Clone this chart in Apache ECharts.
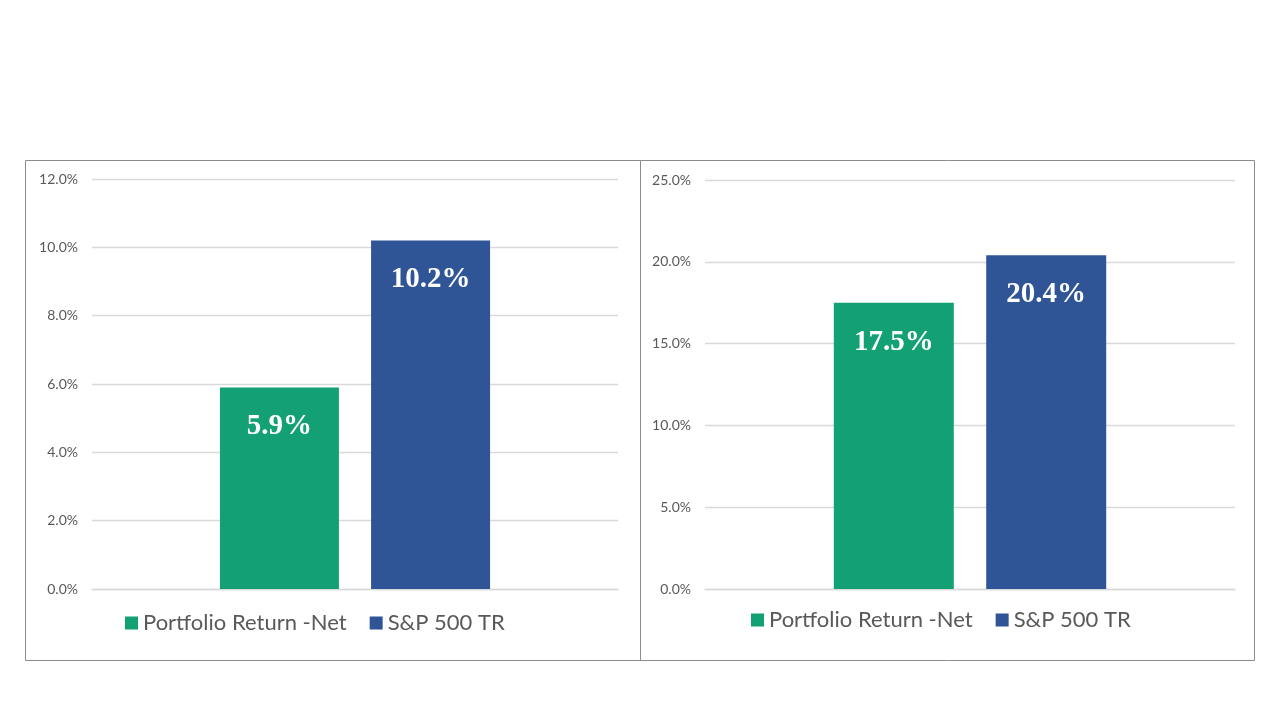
<!DOCTYPE html>
<html>
<head>
<meta charset="utf-8">
<script src="https://cdn.jsdelivr.net/npm/echarts@6/dist/echarts.min.js"></script>
<style>
html,body{margin:0;padding:0;background:#fff;}
#c{width:1280px;height:720px;}
</style>
</head>
<body>
<div id="c"></div>
<script>
const categories = ['Return'];
const seriesNames = ['Portfolio Return -Net', 'S&P 500 TR'];
const leftPortfolio = [5.9];
const leftSP = [10.2];
const rightPortfolio = [17.5];
const rightSP = [20.4];
const leftAxis = { max: 12, interval: 2 };
const rightAxis = { max: 25, interval: 5 };

const GREEN = '#12A074';
const BLUE = '#2F5597';
const GRAY_TXT = '#595959';
const GRID_LINE = '#D9D9D9';

const chart = echarts.init(document.getElementById('c'), null, { renderer: 'canvas' });

function yAxis(gi, cfg) {
  return {
    type: 'value', gridIndex: gi, min: 0, max: cfg.max, interval: cfg.interval,
    axisLine: { show: false }, axisTick: { show: false },
    axisLabel: { color: GRAY_TXT, fontFamily: 'Lato', fontSize: 14, margin: 14,
      formatter: v => v.toFixed(1) + '%' },
    splitLine: { lineStyle: { color: GRID_LINE, width: 1.3 } }
  };
}
function xAxis(gi) {
  return {
    type: 'category', gridIndex: gi, data: categories,
    axisLine: { show: true, lineStyle: { color: GRID_LINE, width: 1.3 } },
    axisTick: { show: false }, axisLabel: { show: false }
  };
}
const labelCfg = {
  show: true, position: 'insideTop', distance: 25, color: '#fff',
  fontFamily: 'Liberation Serif', fontWeight: 'bold', fontSize: 29,
  formatter: p => p.value.toFixed(1) + '%'
};
function bar(name, data, gi, color, width) {
  return {
    name: name, type: 'bar', xAxisIndex: gi, yAxisIndex: gi, data: data,
    barWidth: width, barGap: '27%', itemStyle: { color: color },
    label: labelCfg, silent: true
  };
}
function legend(left, top) {
  return {
    left: left, top: top, itemWidth: 13, itemHeight: 13, itemGap: 23,
    padding: 0, icon: 'rect', selectedMode: false,
    textStyle: { color: GRAY_TXT, fontFamily: 'Lato', fontSize: 22 },
    data: seriesNames
  };
}

chart.setOption({
  animation: false,
  color: [GREEN, BLUE],
  graphic: [
    { type: 'rect', shape: { x: 25.5, y: 160.5, width: 615, height: 500 },
      style: { fill: 'none', stroke: '#8C8C8C', lineWidth: 1 }, silent: true },
    { type: 'rect', shape: { x: 640.5, y: 160.5, width: 614, height: 500 },
      style: { fill: 'none', stroke: '#8C8C8C', lineWidth: 1 }, silent: true }
  ],
  grid: [
    { left: 92, width: 526, top: 179, height: 410 },
    { left: 705, width: 530, top: 180, height: 409 }
  ],
  xAxis: [xAxis(0), xAxis(1)],
  yAxis: [yAxis(0, leftAxis), yAxis(1, rightAxis)],
  legend: [legend(125, 612), legend(751, 609)],
  series: [
    bar(seriesNames[0], leftPortfolio, 0, GREEN, 119),
    bar(seriesNames[1], leftSP, 0, BLUE, 119),
    bar(seriesNames[0], rightPortfolio, 1, GREEN, 120),
    bar(seriesNames[1], rightSP, 1, BLUE, 120)
  ]
});
</script>
</body>
</html>
